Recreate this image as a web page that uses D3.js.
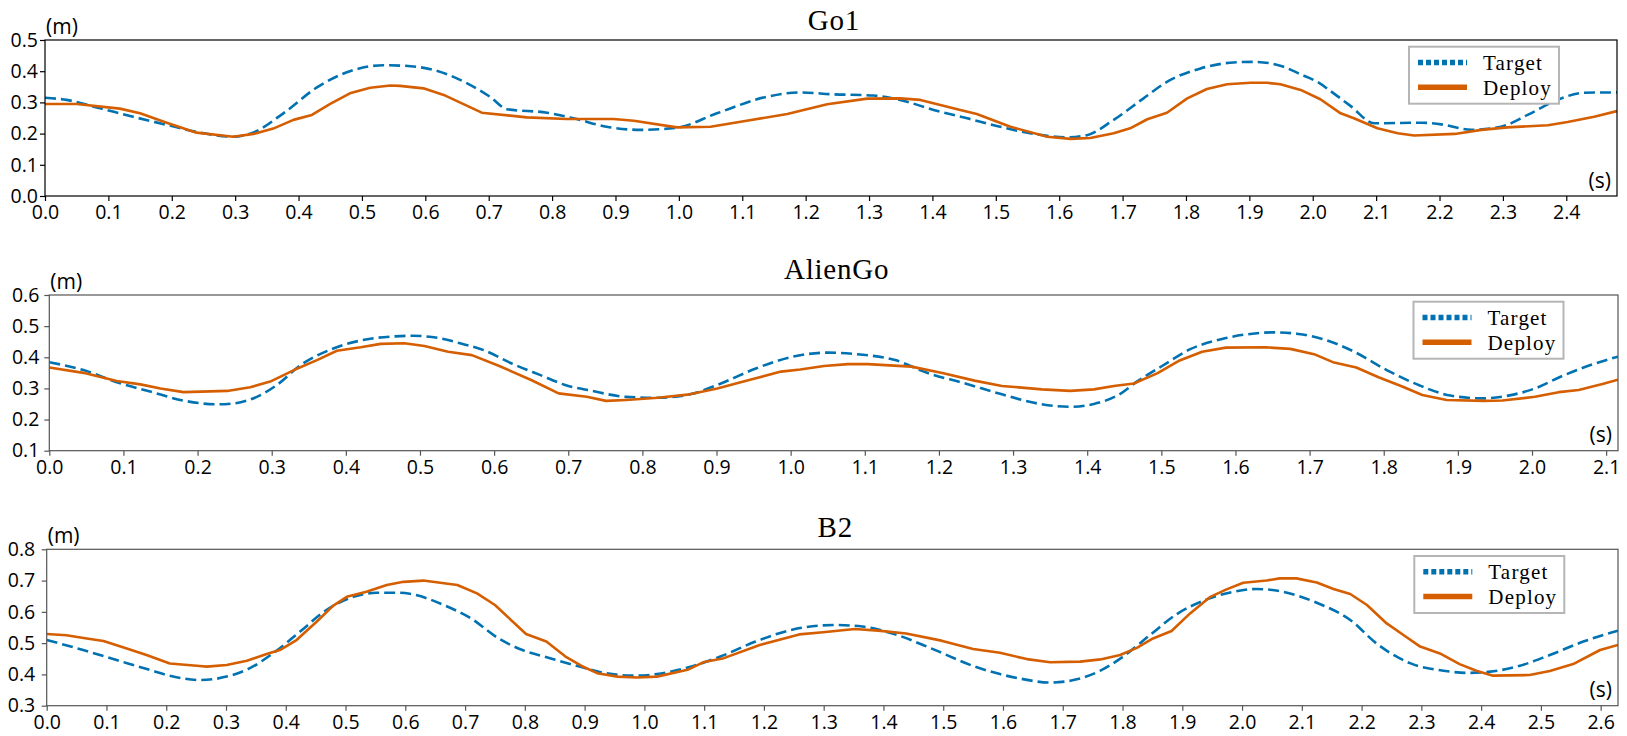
<!DOCTYPE html>
<html><head><meta charset="utf-8">
<script src="https://cdn.jsdelivr.net/npm/d3@7/dist/d3.min.js"></script>
<style>body{margin:0;background:#fff}svg{display:block}</style>
</head><body>
<svg id="chart" width="1627" height="736"></svg>
<script>
// ---------- data ----------
const titles = ["Go1", "AlienGo", "B2"];
const seriesNames = ["Target", "Deploy"];
const yUnit = "(m)";
const xUnit = "(s)";

const go1XTicks = [0,0.1,0.2,0.3,0.4,0.5,0.6,0.7,0.8,0.9,1.0,1.1,1.2,1.3,1.4,1.5,1.6,1.7,1.8,1.9,2.0,2.1,2.2,2.3,2.4];
const go1YTicks = [0.0,0.1,0.2,0.3,0.4,0.5];
const alienXTicks = [0,0.1,0.2,0.3,0.4,0.5,0.6,0.7,0.8,0.9,1.0,1.1,1.2,1.3,1.4,1.5,1.6,1.7,1.8,1.9,2.0,2.1];
const alienYTicks = [0.1,0.2,0.3,0.4,0.5,0.6];
const b2XTicks = [0,0.1,0.2,0.3,0.4,0.5,0.6,0.7,0.8,0.9,1.0,1.1,1.2,1.3,1.4,1.5,1.6,1.7,1.8,1.9,2.0,2.1,2.2,2.3,2.4,2.5,2.6];
const b2YTicks = [0.3,0.4,0.5,0.6,0.7,0.8];
const xDomainMax = [2.48, 2.116, 2.629];
const yDomains = [[0.0,0.5],[0.1,0.6],[0.3,0.8]];

const go1TargetT = [0,0.034,0.087,0.139,0.192,0.245,0.297,0.329,0.376,0.429,0.481,0.534,0.56,0.613,0.666,0.702,0.729,0.792,0.834,0.886,0.939,0.997,1.06,1.139,1.19,1.244,1.307,1.349,1.402,1.455,1.507,1.56,1.613,1.644,1.686,1.733,1.77,1.823,1.875,1.907,1.954,1.981,2.007,2.033,2.06,2.097,2.171,2.208,2.25,2.297,2.339,2.386,2.428,2.48];
const go1TargetV = [0.315,0.308,0.281,0.254,0.228,0.203,0.190,0.204,0.265,0.348,0.400,0.419,0.418,0.404,0.361,0.318,0.278,0.267,0.249,0.222,0.212,0.219,0.265,0.318,0.332,0.326,0.322,0.308,0.276,0.249,0.222,0.199,0.188,0.195,0.244,0.313,0.366,0.409,0.428,0.430,0.414,0.390,0.366,0.329,0.288,0.233,0.235,0.228,0.212,0.222,0.260,0.308,0.331,0.332];
const go1DeployT = [0,0.05,0.118,0.15,0.192,0.239,0.297,0.329,0.36,0.392,0.421,0.45,0.481,0.513,0.545,0.56,0.597,0.629,0.689,0.76,0.823,0.897,0.929,0.997,1.05,1.107,1.171,1.234,1.297,1.349,1.381,1.444,1.47,1.523,1.581,1.618,1.649,1.686,1.712,1.739,1.77,1.802,1.833,1.865,1.902,1.928,1.949,1.981,2.012,2.044,2.065,2.102,2.134,2.16,2.224,2.266,2.307,2.371,2.402,2.444,2.48];
const go1DeployV = [0.295,0.295,0.280,0.265,0.235,0.203,0.190,0.199,0.216,0.244,0.260,0.295,0.329,0.347,0.354,0.353,0.345,0.324,0.267,0.252,0.247,0.247,0.241,0.220,0.222,0.241,0.263,0.294,0.312,0.313,0.308,0.276,0.263,0.222,0.190,0.183,0.186,0.201,0.217,0.246,0.267,0.313,0.343,0.358,0.363,0.363,0.358,0.340,0.310,0.265,0.249,0.217,0.201,0.194,0.199,0.212,0.220,0.227,0.237,0.254,0.272];

const alienTargetT = [0,0.046,0.091,0.136,0.181,0.226,0.249,0.28,0.307,0.339,0.384,0.429,0.474,0.49,0.527,0.554,0.586,0.623,0.66,0.7,0.73,0.778,0.821,0.864,0.906,0.954,1.003,1.051,1.088,1.141,1.184,1.232,1.285,1.312,1.35,1.377,1.409,1.442,1.469,1.501,1.539,1.582,1.62,1.652,1.685,1.717,1.76,1.804,1.847,1.89,1.934,1.966,2.004,2.041,2.079,2.116];
const alienTargetV = [0.384,0.359,0.320,0.290,0.261,0.249,0.252,0.273,0.311,0.375,0.429,0.458,0.468,0.469,0.461,0.445,0.423,0.381,0.345,0.308,0.293,0.273,0.270,0.281,0.316,0.365,0.402,0.415,0.410,0.391,0.350,0.318,0.281,0.263,0.245,0.241,0.250,0.279,0.325,0.372,0.426,0.459,0.475,0.480,0.475,0.459,0.418,0.359,0.311,0.277,0.268,0.276,0.300,0.340,0.375,0.402];
const alienDeployT = [0,0.046,0.091,0.123,0.15,0.181,0.24,0.271,0.298,0.33,0.361,0.388,0.42,0.447,0.479,0.506,0.538,0.57,0.607,0.65,0.687,0.725,0.751,0.778,0.821,0.864,0.901,0.944,0.987,1.013,1.045,1.077,1.104,1.163,1.206,1.248,1.285,1.339,1.377,1.409,1.436,1.463,1.495,1.523,1.555,1.587,1.641,1.674,1.706,1.733,1.763,1.793,1.825,1.852,1.885,1.934,1.96,2.004,2.036,2.063,2.095,2.116];
const alienDeployV = [0.367,0.350,0.324,0.313,0.300,0.288,0.292,0.304,0.322,0.359,0.391,0.421,0.432,0.443,0.445,0.436,0.418,0.407,0.372,0.327,0.284,0.273,0.260,0.263,0.270,0.281,0.300,0.327,0.354,0.361,0.372,0.378,0.378,0.370,0.349,0.325,0.308,0.297,0.292,0.297,0.308,0.316,0.349,0.388,0.418,0.431,0.432,0.427,0.410,0.383,0.367,0.336,0.306,0.279,0.263,0.260,0.261,0.273,0.288,0.295,0.314,0.328];

const b2TargetT = [0,0.061,0.117,0.173,0.217,0.256,0.301,0.34,0.379,0.424,0.468,0.513,0.552,0.591,0.617,0.664,0.71,0.756,0.796,0.842,0.888,0.935,0.981,1.021,1.074,1.127,1.186,1.252,1.318,1.365,1.418,1.484,1.55,1.595,1.628,1.679,1.718,1.763,1.801,1.846,1.891,1.941,1.985,2.024,2.069,2.125,2.181,2.225,2.264,2.281,2.337,2.376,2.415,2.46,2.515,2.571,2.629];
const b2TargetV = [0.510,0.478,0.446,0.414,0.391,0.382,0.393,0.420,0.468,0.537,0.606,0.648,0.661,0.661,0.654,0.622,0.579,0.515,0.478,0.452,0.427,0.404,0.396,0.401,0.423,0.457,0.505,0.545,0.558,0.553,0.529,0.480,0.427,0.401,0.387,0.374,0.382,0.412,0.457,0.526,0.593,0.640,0.664,0.673,0.664,0.629,0.574,0.499,0.451,0.436,0.412,0.405,0.409,0.425,0.462,0.505,0.540];
const b2DeployT = [0,0.033,0.067,0.095,0.134,0.167,0.206,0.256,0.268,0.301,0.335,0.368,0.39,0.418,0.452,0.479,0.502,0.535,0.569,0.597,0.63,0.687,0.72,0.75,0.802,0.836,0.868,0.895,0.921,0.955,0.988,1.021,1.074,1.1,1.133,1.193,1.259,1.299,1.352,1.391,1.438,1.497,1.55,1.595,1.64,1.679,1.729,1.763,1.796,1.824,1.851,1.882,1.913,1.946,1.974,2.002,2.041,2.063,2.091,2.125,2.153,2.181,2.209,2.242,2.27,2.298,2.331,2.364,2.392,2.42,2.481,2.515,2.554,2.599,2.629];
const b2DeployV = [0.529,0.525,0.515,0.507,0.483,0.462,0.435,0.427,0.425,0.430,0.444,0.465,0.478,0.510,0.569,0.619,0.648,0.664,0.686,0.696,0.700,0.686,0.659,0.622,0.529,0.505,0.457,0.427,0.404,0.393,0.390,0.393,0.416,0.440,0.452,0.494,0.528,0.535,0.545,0.540,0.531,0.508,0.481,0.469,0.449,0.439,0.441,0.448,0.462,0.485,0.515,0.539,0.595,0.647,0.672,0.693,0.700,0.707,0.707,0.694,0.673,0.657,0.622,0.563,0.526,0.489,0.467,0.433,0.412,0.396,0.398,0.411,0.433,0.478,0.494];

// ---------- layout / style ----------
const colors = {target: "#0072B2", deploy: "#D55E00"};
const layouts = [
  {left: 45,   right: 1617, top: 40,    bottom: 196,   spine: "#000", yPad: 2,   titleY: 29.5, legX: 1409},
  {left: 49.3, right: 1618, top: 295,   bottom: 450.7, spine: "#555", yPad: 5,   titleY: 278.5, legX: 1413.5},
  {left: 46.7, right: 1618, top: 549.3, bottom: 705.7, spine: "#555", yPad: 6.5, titleY: 537, legX: 1414.3}
];
const panelData = [
  {xt: go1XTicks, yt: go1YTicks, tT: go1TargetT, tV: go1TargetV, dT: go1DeployT, dV: go1DeployV},
  {xt: alienXTicks, yt: alienYTicks, tT: alienTargetT, tV: alienTargetV, dT: alienDeployT, dV: alienDeployV},
  {xt: b2XTicks, yt: b2YTicks, tT: b2TargetT, tV: b2TargetV, dT: b2DeployT, dV: b2DeployV}
];

const svg = d3.select("#chart");
const fmt = d3.format(".1f");
const sans = "'Open Sans', 'Noto Sans', sans-serif";
const serif = "'Liberation Serif', 'DejaVu Serif', serif";

panelData.forEach((pd, i) => {
  const L = layouts[i];
  const x = d3.scaleLinear().domain([0, xDomainMax[i]]).range([L.left, L.right]);
  const y = d3.scaleLinear().domain(yDomains[i]).range([L.bottom, L.top]);
  const g = svg.append("g");

  const clipId = "clip" + i;
  svg.append("clipPath").attr("id", clipId).append("rect")
    .attr("x", L.left).attr("y", L.top).attr("width", L.right - L.left).attr("height", L.bottom - L.top);

  // axes
  const xa = g.append("g").attr("transform", `translate(0,${L.bottom})`)
    .call(d3.axisBottom(x).tickValues(pd.xt).tickFormat(fmt).tickSize(5).tickSizeOuter(0).tickPadding(4.5));
  const ya = g.append("g").attr("transform", `translate(${L.left},0)`)
    .call(d3.axisLeft(y).tickValues(pd.yt).tickFormat(fmt).tickSize(5).tickSizeOuter(0).tickPadding(L.yPad));
  [xa, ya].forEach(a => {
    a.select(".domain").remove();
    a.selectAll(".tick line").attr("stroke", L.spine).attr("stroke-width", 1.2);
    a.selectAll(".tick text").attr("fill", "#000").style("font-family", sans).style("font-size", "19.5px");
  });

  // lines
  const lineT = d3.line().x((d) => x(d[0])).y((d) => y(d[1])).curve(d3.curveMonotoneX);
  const lineD = d3.line().x((d) => x(d[0])).y((d) => y(d[1]));
  const tPts = pd.tT.map((t, k) => [t, pd.tV[k]]);
  const dPts = pd.dT.map((t, k) => [t, pd.dV[k]]);
  const lg = g.append("g").attr("clip-path", `url(#${clipId})`);
  lg.append("path").attr("d", lineT(tPts)).attr("fill", "none")
    .attr("stroke", colors.target).attr("stroke-width", 2.6).attr("stroke-dasharray", "11,5");
  lg.append("path").attr("d", lineD(dPts)).attr("fill", "none")
    .attr("stroke", colors.deploy).attr("stroke-width", 2.6).attr("stroke-linejoin", "round");

  // frame
  g.append("rect").attr("x", L.left).attr("y", L.top)
    .attr("width", L.right - L.left).attr("height", L.bottom - L.top)
    .attr("fill", "none").attr("stroke", L.spine).attr("stroke-width", 1.2);

  // title
  g.append("text").attr("x", (L.left + L.right) / 2 + 3).attr("y", L.titleY)
    .attr("text-anchor", "middle").style("font-family", serif).style("font-size", "29px")
    .style("letter-spacing", "0.8px").text(titles[i]);

  // unit labels
  g.append("text").attr("x", L.left + 1).attr("y", L.top - 6.5)
    .style("font-family", sans).style("font-size", "21px").text(yUnit);
  g.append("text").attr("x", L.right - 6).attr("y", L.bottom - 8.5).attr("text-anchor", "end")
    .style("font-family", sans).style("font-size", "21px").text(xUnit);

  // legend
  const leg = g.append("g").attr("transform", `translate(${L.legX},${L.top + 6.7})`);
  leg.append("rect").attr("width", 150).attr("height", 57).attr("fill", "#fff")
    .attr("stroke", "#b5b5b5").attr("stroke-width", 2);
  const entries = [
    {name: seriesNames[0], color: colors.target, dash: "5,3"},
    {name: seriesNames[1], color: colors.deploy, dash: null}
  ];
  entries.forEach((e, k) => {
    const cy = 15.8 + k * 24.8;
    const ln = leg.append("line").attr("x1", 9).attr("x2", 58).attr("y1", cy).attr("y2", cy)
      .attr("stroke", e.color).attr("stroke-width", 5.5);
    if (e.dash) ln.attr("stroke-dasharray", e.dash);
    leg.append("text").attr("x", 74).attr("y", cy + 7.5)
      .style("font-family", serif).style("font-size", "21px").style("letter-spacing", "1.2px").text(e.name);
  });
});
</script>
</body></html>
